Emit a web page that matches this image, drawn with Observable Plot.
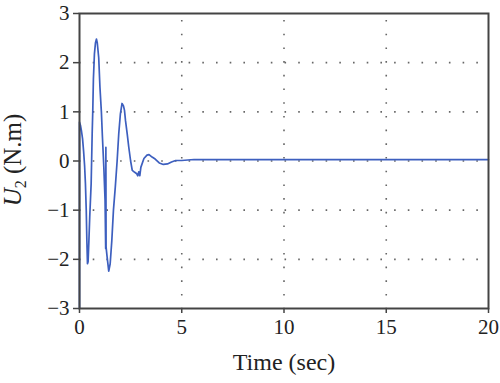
<!DOCTYPE html>
<html><head><meta charset="utf-8">
<script src="https://cdn.jsdelivr.net/npm/d3@7"></script>
<script src="https://cdn.jsdelivr.net/npm/@observablehq/plot@0.6"></script>
<style>body{margin:0;background:#fff} svg{display:block} svg text{font-family:"Liberation Serif","Times New Roman",Times,serif}</style>
</head><body><div id="chart"></div>
<script>
const time = [0, 0, 0.05, 0.1, 0.15, 0.2, 0.25, 0.29, 0.33, 0.36, 0.39, 0.42, 0.46, 0.5, 0.57, 0.62, 0.65, 0.68, 0.73, 0.78, 0.83, 0.87, 0.94, 1.0, 1.07, 1.12, 1.19, 1.25, 1.28, 1.29, 1.30, 1.35, 1.43, 1.5, 1.58, 1.66, 1.75, 1.84, 1.92, 2.0, 2.08, 2.15, 2.2, 2.25, 2.33, 2.41, 2.5, 2.58, 2.7, 2.8, 2.85, 2.9, 2.95, 3.0, 3.15, 3.3, 3.4, 3.55, 3.7, 3.9, 4.1, 4.3, 4.5, 4.7, 5.0, 5.6, 6.5, 8, 10, 14, 20];
const torque = [-3, 0.79, 0.72, 0.6, 0.45, 0.2, -0.1, -0.46, -1.0, -1.62, -2.09, -2.05, -1.62, -1.14, -0.46, 0.56, 1.03, 1.67, 2.18, 2.4, 2.48, 2.4, 2.1, 1.5, 1.0, 0.5, -0.13, -0.8, -1.78, 0.28, -1.75, -1.95, -2.24, -2.09, -1.62, -1.0, -0.53, 0.0, 0.56, 0.96, 1.17, 1.12, 1.03, 0.82, 0.56, 0.28, 0.0, -0.19, -0.23, -0.26, -0.3, -0.22, -0.3, -0.13, 0.05, 0.12, 0.13, 0.08, 0.04, -0.04, -0.07, -0.06, -0.02, 0.01, 0.01, 0.03, 0.03, 0.03, 0.03, 0.03, 0.03];
const xTicks = [0, 5, 10, 15, 20];
const yTicks = [-3, -2, -1, 0, 1, 2, 3];
const xLabel = "Time (sec)";

const data = time.map((t, i) => ({t, u: torque[i]}));
const gridStyle = {stroke: "#666", strokeOpacity: 1, strokeWidth: 1.6, strokeDasharray: "1.6 12.1"};

const chart = Plot.plot({
  width: 500, height: 383,
  marginLeft: 79, marginRight: 12, marginTop: 13, marginBottom: 75,
  style: {fontFamily: "'Liberation Serif', 'Times New Roman', serif", fontSize: "21px", color: "#222", background: "#fff"},
  x: {domain: [0, 20]},
  y: {domain: [-3, 3]},
  marks: [
    Plot.gridX(xTicks.slice(1, -1), {...gridStyle, strokeDashoffset: 6.7}),
    Plot.gridY(yTicks.slice(1, -1), {...gridStyle, strokeDashoffset: 0}),
    Plot.line(data, {x: "t", y: "u", stroke: "#3d5fbf", strokeWidth: 1.7}),
    Plot.frame({stroke: "#444", strokeWidth: 2}),
    Plot.axisX(xTicks, {tickSize: 5, tickPadding: 6, stroke: "#444", strokeWidth: 1.5, label: null, fontSize: 21}),
    Plot.axisY(yTicks, {tickSize: 6, tickPadding: 4, stroke: "#444", strokeWidth: 1.5, label: null, fontSize: 21}),
    Plot.text([xLabel], {frameAnchor: "bottom", dy: 61, fontSize: 24, fill: "#222"})
  ]
});
document.getElementById("chart").append(chart);

const svg = d3.select(chart);
const yl = svg.append("text")
  .attr("transform", "translate(21,160) rotate(-90)")
  .attr("text-anchor", "middle")
  .attr("font-size", 25)
  .attr("fill", "#222");
yl.append("tspan").attr("font-style", "italic").text("U");
yl.append("tspan").attr("font-size", 16).attr("dy", 5).text("2");
yl.append("tspan").attr("dy", -5).text(" (N.m)");
</script>
</body></html>
